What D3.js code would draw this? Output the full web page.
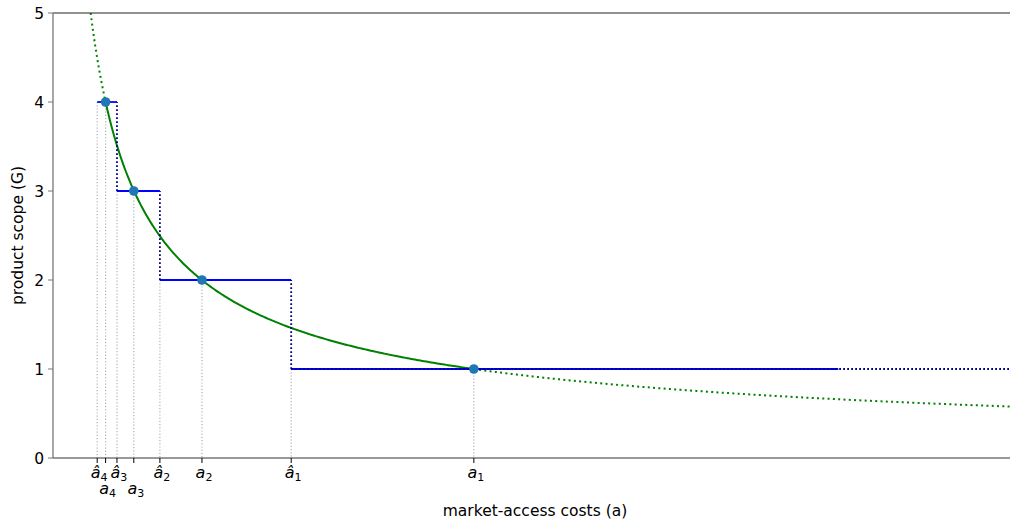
<!DOCTYPE html>
<html>
<head>
<meta charset="utf-8">
<script src="https://cdn.jsdelivr.net/npm/d3@7"></script>
<style>
  body { margin: 0; background: #fff; }
  text { font-family: "DejaVu Sans", sans-serif; fill: #000; }
</style>
</head>
<body>
<svg class="chart"></svg>
<script>
// product scope levels and the matching points on the curve
const levels = [1, 2, 3, 4];
const aPoints = [1, 0.354, 0.192, 0.125];
// thresholds (a hat) where the scope steps down
const aHats = [0.566, 0.254, 0.152, 0.105];
const stepEnd = 1.866;
const xMax = 2.274;
const yTicks = [0, 1, 2, 3, 4, 5];
// curve G = a^(-2/3)
const curveExp = -2 / 3;

let width = 1010;
let height = 523;
let margin = { top: 13, right: 0, bottom: 65, left: 53 };

let svg = d3.select('.chart').attr('width', width).attr('height', height);

let x = d3.scaleLinear().domain([0, xMax]).range([margin.left, width - margin.right]);
let y = d3.scaleLinear().domain([0, 5]).range([height - margin.bottom, margin.top]);

let plot = svg.append('g');

// gray guide lines down to the axis
const guides = [];
levels.forEach((g, i) => {
  guides.push({ a: aHats[i], g: g });
  guides.push({ a: aPoints[i], g: g });
});
plot
  .selectAll('.guide')
  .data(guides)
  .enter()
  .append('line')
  .attr('x1', (d) => x(d.a))
  .attr('x2', (d) => x(d.a))
  .attr('y1', (d) => y(d.g))
  .attr('y2', y(0))
  .attr('stroke', '#b0b0b0')
  .attr('stroke-width', 1.2)
  .attr('stroke-dasharray', '1.2,2');

// curve
const line = d3
  .line()
  .x((d) => x(d))
  .y((d) => y(Math.pow(d, curveExp)));
const sample = (lo, hi) => d3.range(0, 201).map((k) => lo + ((hi - lo) * k) / 200);
const aTop = Math.pow(5, 1 / curveExp);
const a4 = aPoints[3];
const a1 = aPoints[0];

plot.append('path').attr('d', line(sample(aTop, a4))).attr('fill', 'none')
  .attr('stroke', '#008000').attr('stroke-width', 2).attr('stroke-dasharray', '2,3.3');
plot.append('path').attr('d', line(sample(a1, xMax))).attr('fill', 'none')
  .attr('stroke', '#008000').attr('stroke-width', 2).attr('stroke-dasharray', '2,3.3');
plot.append('path').attr('d', line(sample(a4, a1))).attr('fill', 'none')
  .attr('stroke', '#008000').attr('stroke-width', 2);

// steps: horizontal solid from a hat(G) to a hat(G+1), dotted drop at a hat(G)
levels.forEach((g, i) => {
  let x0 = x(aHats[i]);
  let x1 = i === 0 ? x(stepEnd) : x(aHats[i - 1]);
  plot.append('line').attr('x1', x0).attr('x2', x1).attr('y1', y(g)).attr('y2', y(g))
    .attr('stroke', '#0000ff').attr('stroke-width', 1.8);
  if (i < levels.length - 1) {
    plot.append('line').attr('x1', x0).attr('x2', x0)
      .attr('y1', y(g)).attr('y2', y(levels[i + 1]))
      .attr('stroke', '#00008b').attr('stroke-width', 1.8).attr('stroke-dasharray', '1.8,2.2');
  }
});
plot.append('line').attr('x1', x(aHats[0])).attr('x2', x(xMax)).attr('y1', y(1)).attr('y2', y(1))
  .attr('stroke', '#00008b').attr('stroke-width', 1.8).attr('stroke-dasharray', '1.8,2.2');

// points
plot
  .selectAll('.pt')
  .data(levels)
  .enter()
  .append('circle')
  .attr('cx', (d, i) => x(aPoints[i]))
  .attr('cy', (d) => y(d))
  .attr('r', 4.8)
  .attr('fill', '#1f77b4');

// spines
svg.append('line').attr('x1', margin.left).attr('x2', width).attr('y1', y(5)).attr('y2', y(5))
  .attr('stroke', '#222').attr('stroke-width', 1);
svg.append('line').attr('x1', margin.left).attr('x2', margin.left).attr('y1', y(5)).attr('y2', y(0))
  .attr('stroke', '#777').attr('stroke-width', 1.3);
svg.append('line').attr('x1', margin.left).attr('x2', width).attr('y1', y(0)).attr('y2', y(0))
  .attr('stroke', '#777').attr('stroke-width', 1.3);

// y axis ticks
let yAxis = svg.append('g');
yTicks.forEach((t) => {
  yAxis.append('line').attr('x1', margin.left - 5).attr('x2', margin.left)
    .attr('y1', y(t)).attr('y2', y(t)).attr('stroke', '#777').attr('stroke-width', 1);
  yAxis.append('text').attr('x', margin.left - 9).attr('y', y(t)).attr('dy', '0.36em')
    .style('text-anchor', 'end').style('font-size', '15.5px').text(t);
});

// x axis ticks with mathtext-like labels
const xLabels = [];
levels.forEach((g, i) => {
  xLabels.push({ a: aHats[i], hat: true, sub: g, low: false });
  xLabels.push({ a: aPoints[i], hat: false, sub: g, low: i >= 2 });
});
let xAxis = svg.append('g');
xLabels.forEach((d) => {
  xAxis.append('line').attr('x1', x(d.a)).attr('x2', x(d.a))
    .attr('y1', y(0)).attr('y2', y(0) + 5).attr('stroke', '#000').attr('stroke-width', 1);
  let t = xAxis.append('text')
    .attr('x', x(d.a) + 2)
    .attr('y', d.low ? 494 : 478)
    .style('text-anchor', 'middle')
    .style('font-size', '16px');
  t.append('tspan').style('font-style', 'italic').text(d.hat ? 'â' : 'a');
  t.append('tspan').attr('dy', 2.5).style('font-size', '11px').text(d.sub);
});

// axis titles
svg.append('text').attr('x', 535).attr('y', 516)
  .style('text-anchor', 'middle').style('font-size', '15.5px').text('market-access costs (a)');
svg.append('text')
  .attr('transform', `translate(23, ${(y(0) + y(5)) / 2}) rotate(-90)`)
  .style('text-anchor', 'middle').style('font-size', '15.5px').text('product scope (G)');
</script>
</body>
</html>
